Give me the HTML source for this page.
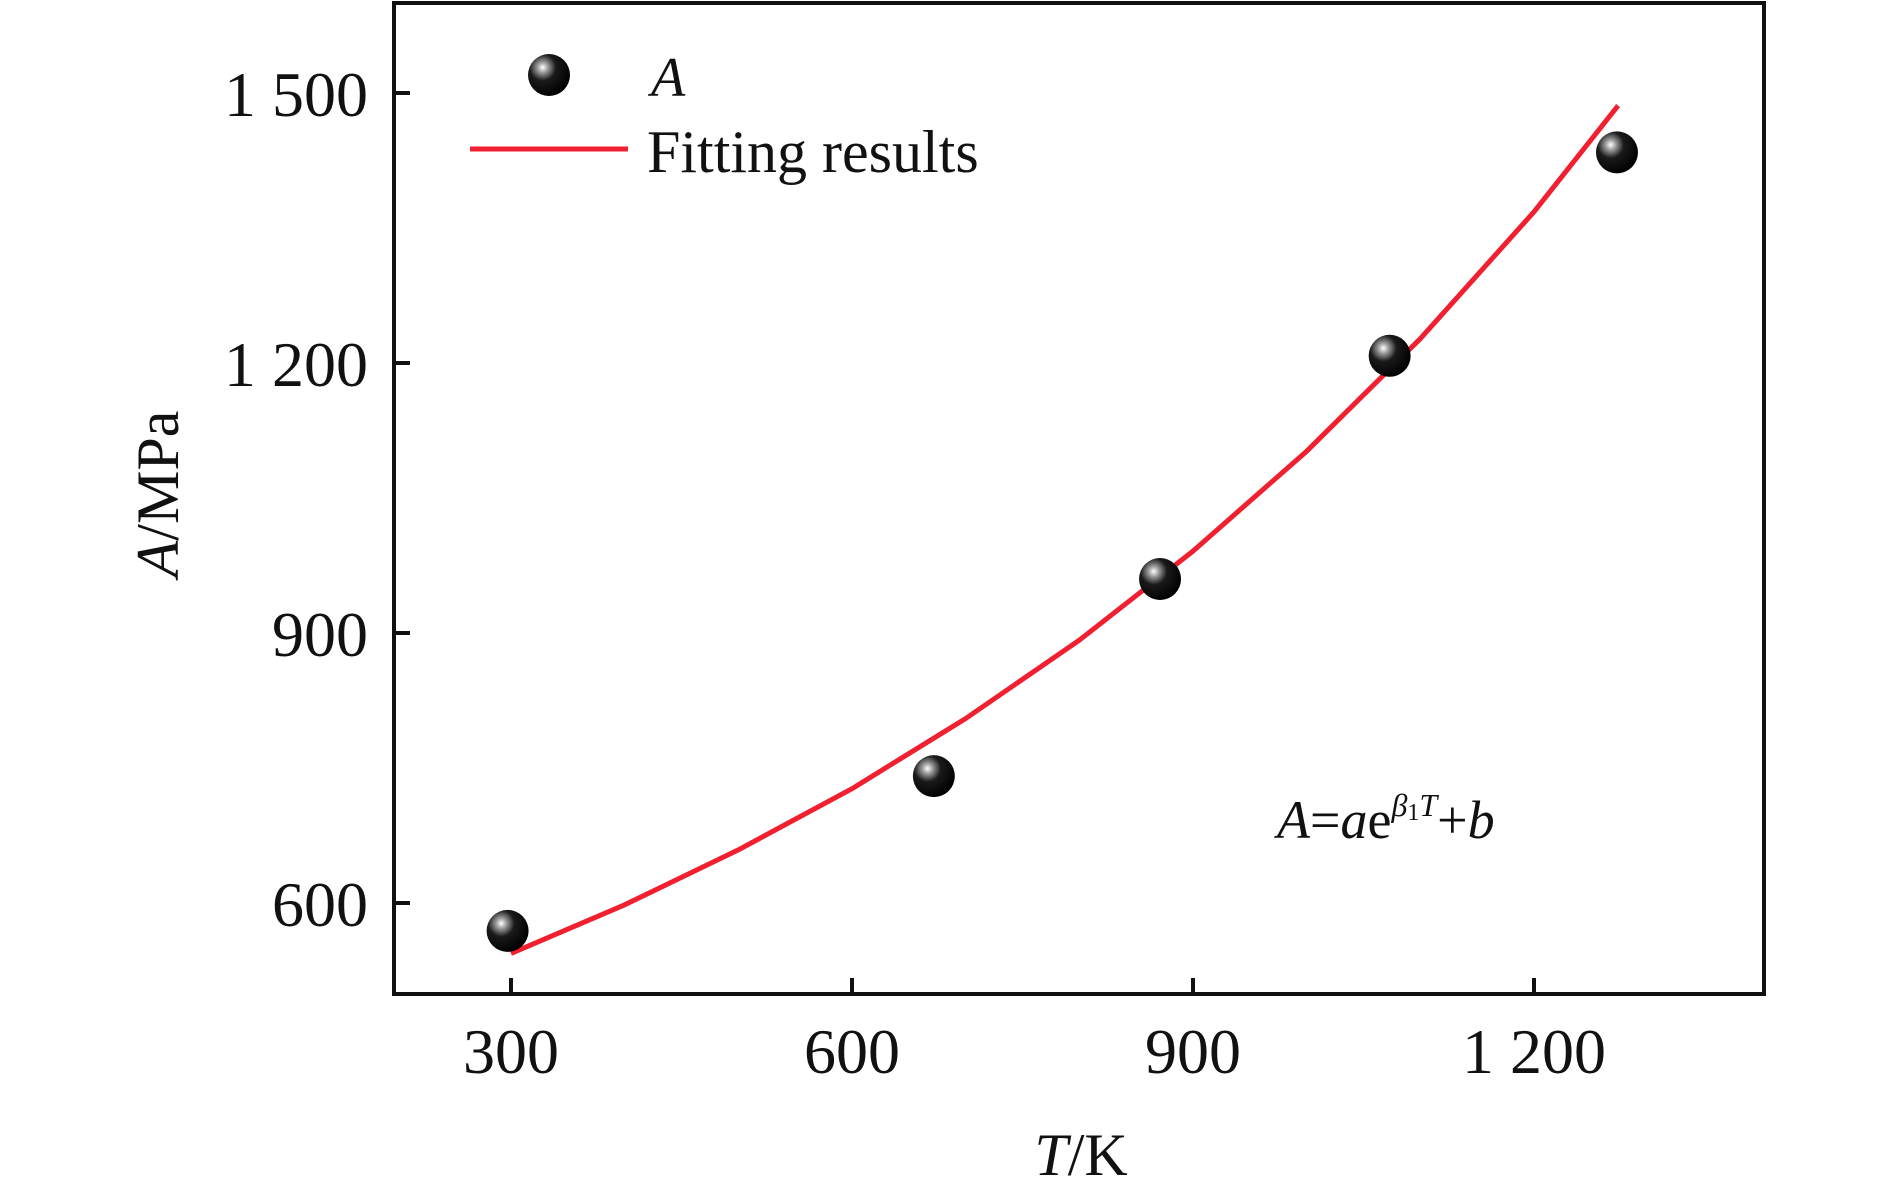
<!DOCTYPE html>
<html><head><meta charset="utf-8">
<style>
html,body{margin:0;padding:0;background:#fff;}
svg{display:block;}
text{font-family:"Liberation Serif",serif;fill:#111;}
</style></head>
<body>
<svg id="chart" width="1890" height="1196" viewBox="0 0 1890 1196" xmlns="http://www.w3.org/2000/svg">
<defs>
<radialGradient id="ball" cx="0.35" cy="0.32" r="0.7">
<stop offset="0" stop-color="#ffffff"/>
<stop offset="0.18" stop-color="#9a9a9a"/>
<stop offset="0.45" stop-color="#1a1a1a"/>
<stop offset="1" stop-color="#000"/>
</radialGradient>
</defs>
<g id="plot"></g>
</svg>
<script>
const xTicks = [300, 600, 900, 1200];
const xTickLabels = ["300", "600", "900", "1 200"];
const yTicks = [600, 900, 1200, 1500];
const yTickLabels = ["600", "900", "1 200", "1 500"];
const dataT = [297, 672, 871, 1073, 1273];
const dataA = [569, 741, 960, 1208, 1434];
const curveT = [300, 400, 500, 600, 700, 800, 900, 1000, 1100, 1200, 1274];
const curveA = [544, 598, 659, 727, 805, 892, 991, 1102, 1227, 1368, 1486];

const NS = "http://www.w3.org/2000/svg";
const g = document.getElementById('plot');
const L = 394, R = 1764, T = 3, B = 994;
function xs(v){ return 511 + (v - 300) * 341 / 300; }
function ys(v){ return 903 - (v - 600) * 270 / 300; }
function mk(tag, attrs, parent){
  const e = document.createElementNS(NS, tag);
  for (const k in attrs) e.setAttribute(k, attrs[k]);
  (parent || g).appendChild(e);
  return e;
}

// frame
const frame = mk('rect', {x:L, y:T, width:R-L, height:B-T, fill:'none', stroke:'#111', 'stroke-width':4});



xTicks.forEach((v, i) => {
  const t = mk('line', {x1:xs(v), x2:xs(v), y1:B, y2:B-16, stroke:'#111', 'stroke-width':4});
  
  
  const lb = mk('text', {x:xs(v), y:1073, 'font-size':64, 'text-anchor':'middle'});
  lb.textContent = xTickLabels[i];
  
  
});
yTicks.forEach((v, i) => {
  const t = mk('line', {x1:L, x2:L+16, y1:ys(v), y2:ys(v), stroke:'#111', 'stroke-width':4});
  
  
  const lb = mk('text', {x:368, y:ys(v)+23, 'font-size':64, 'text-anchor':'end'});
  lb.textContent = yTickLabels[i];
  
  
});

// fitted curve
let d = '';
curveT.forEach((v, i) => { d += (i ? 'L' : 'M') + xs(v).toFixed(1) + ' ' + ys(curveA[i]).toFixed(1) + ' '; });
const curve = mk('path', {d:d, fill:'none', stroke:'#f02030', 'stroke-width':5, 'stroke-linejoin':'round'});



// points
dataT.forEach((v, i) => {
  const c = mk('circle', {cx:xs(v), cy:ys(dataA[i]), r:21, fill:'url(#ball)'});
  
  
});
</script>
<svg style="position:absolute;left:0;top:0" width="1890" height="1196" xmlns="http://www.w3.org/2000/svg">
<g>
<circle cx="549" cy="75" r="21" fill="url(#ball)"/>
<text x="651" y="96" font-size="56" font-style="italic" style="font-family:'Liberation Serif',serif">A</text>
<line x1="470" y1="149" x2="628" y2="149" stroke="#f02030" stroke-width="5"/>
<text x="647" y="172" font-size="60" style="font-family:'Liberation Serif',serif">Fitting results</text>
</g>
<text x="1277" y="838" font-size="54" style="font-family:'Liberation Serif',serif"><tspan font-style="italic">A</tspan>=<tspan font-style="italic">a</tspan>e<tspan font-size="32" dy="-22" font-style="italic">β</tspan><tspan font-size="24" dy="4">1</tspan><tspan font-size="32" dy="-4" font-style="italic">T</tspan><tspan dy="22">+</tspan><tspan font-style="italic">b</tspan></text>
<text transform="translate(178,494) rotate(-90)" text-anchor="middle" font-size="60" style="font-family:'Liberation Serif',serif"><tspan font-style="italic">A</tspan>/MPa</text>
<text x="1081" y="1175" text-anchor="middle" font-size="60" style="font-family:'Liberation Serif',serif"><tspan font-style="italic">T</tspan>/K</text>
</svg>
</body></html>
